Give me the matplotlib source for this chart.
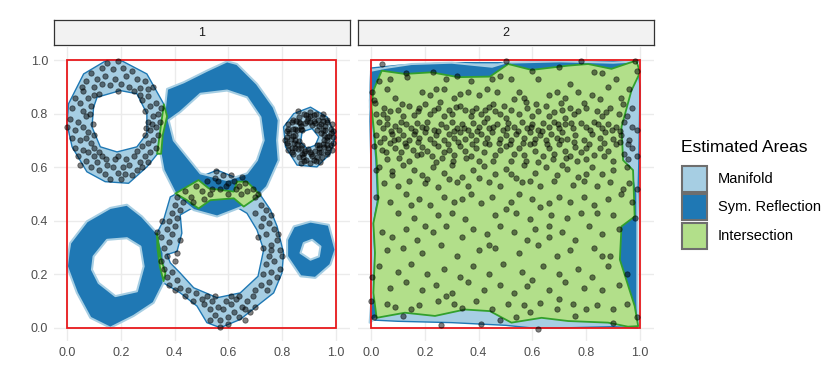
import numpy as np
import matplotlib
matplotlib.use("Agg")
import matplotlib.pyplot as plt
from matplotlib.path import Path
from matplotlib.patches import PathPatch, Rectangle

plt.rcParams['font.family'] = ['Liberation Sans', 'DejaVu Sans']

# ---------------- data ----------------
facet_labels = ["1", "2"]
legend_title = "Estimated Areas"
legend_labels = ["Manifold", "Sym. Reflection", "Intersection"]
ticks = [0.0, 0.2, 0.4, 0.6, 0.8, 1.0]
tick_labels = ["0.0", "0.2", "0.4", "0.6", "0.8", "1.0"]

# Panel 1 - Manifold rings
p1_man_tl_outer = [(0.149, 1.0), (0.198, 1.0), (0.297, 0.948), (0.359, 0.837), (0.372, 0.787), (0.347, 0.663),
                   (0.297, 0.601), (0.229, 0.540), (0.142, 0.546), (0.074, 0.583), (0.019, 0.676), (0.0, 0.762),
                   (0.006, 0.837), (0.062, 0.948)]
p1_man_tl_inner = [(0.112, 0.861), (0.198, 0.886), (0.26, 0.874), (0.297, 0.8), (0.297, 0.725), (0.26, 0.676),
                   (0.186, 0.657), (0.124, 0.676), (0.093, 0.75), (0.099, 0.824)]
p1_man_tr_outer = [(0.843, 0.8), (0.905, 0.824), (0.967, 0.787), (0.998, 0.719), (0.979, 0.651), (0.929, 0.601),
                   (0.855, 0.608), (0.812, 0.676), (0.805, 0.75)]
p1_man_tr_inner = [(0.874, 0.732), (0.911, 0.744), (0.936, 0.713), (0.923, 0.682), (0.892, 0.67), (0.868, 0.693)]
p1_man_bm_outer = [(0.397, 0.496), (0.446, 0.527), (0.496, 0.564), (0.558, 0.589), (0.62, 0.564), (0.682, 0.527),
                   (0.719, 0.496), (0.756, 0.441), (0.781, 0.379), (0.805, 0.28), (0.799, 0.205), (0.768, 0.131),
                   (0.706, 0.082), (0.644, 0.032), (0.57, 0.001), (0.52, 0.02), (0.483, 0.082), (0.421, 0.131),
                   (0.359, 0.168), (0.359, 0.267), (0.335, 0.354), (0.359, 0.403), (0.384, 0.489)]
p1_man_bm_inner = [(0.421, 0.422), (0.496, 0.465), (0.595, 0.472), (0.669, 0.428), (0.706, 0.366), (0.731, 0.292),
                   (0.71, 0.193), (0.644, 0.131), (0.558, 0.113), (0.471, 0.15), (0.421, 0.205), (0.384, 0.243),
                   (0.372, 0.274), (0.409, 0.286), (0.427, 0.354)]

# Panel 1 - Sym. Reflection rings
p1_sym_tm_outer = [(0.372, 0.892), (0.434, 0.917), (0.52, 0.96), (0.595, 0.995), (0.632, 0.985), (0.706, 0.911),
                   (0.768, 0.824), (0.787, 0.775), (0.781, 0.7), (0.787, 0.626), (0.743, 0.527), (0.682, 0.465),
                   (0.62, 0.44), (0.558, 0.416), (0.471, 0.44), (0.409, 0.49), (0.359, 0.589), (0.341, 0.688),
                   (0.359, 0.775)]
p1_sym_tm_inner = [(0.421, 0.806), (0.496, 0.874), (0.595, 0.886), (0.669, 0.861), (0.719, 0.787), (0.731, 0.7),
                   (0.706, 0.626), (0.669, 0.577), (0.595, 0.552), (0.496, 0.577), (0.446, 0.639), (0.397, 0.7),
                   (0.378, 0.775)]
p1_sym_bl_outer = [(0.012, 0.317), (0.074, 0.398), (0.161, 0.448), (0.223, 0.46), (0.279, 0.416), (0.335, 0.354),
                   (0.359, 0.28), (0.359, 0.168), (0.322, 0.094), (0.248, 0.045), (0.161, 0.001), (0.087, 0.038),
                   (0.037, 0.131), (0.0, 0.23), (0.006, 0.28)]
p1_sym_bl_inner = [(0.099, 0.267), (0.149, 0.329), (0.223, 0.335), (0.273, 0.304), (0.285, 0.23), (0.26, 0.137),
                   (0.18, 0.119), (0.118, 0.168), (0.093, 0.218)]
p1_sym_br_outer = [(0.843, 0.379), (0.905, 0.397), (0.973, 0.385), (0.998, 0.292), (0.979, 0.236), (0.923, 0.187),
                   (0.868, 0.193), (0.818, 0.267), (0.818, 0.329)]
p1_sym_br_inner = [(0.88, 0.317), (0.911, 0.329), (0.942, 0.304), (0.936, 0.267), (0.905, 0.255), (0.868, 0.28)]

# Panel 1 - Intersections
p1_int_a = [(0.335, 0.65), (0.36, 0.835), (0.372, 0.79), (0.356, 0.72), (0.35, 0.65)]
p1_int_b = [(0.403, 0.502), (0.489, 0.552), (0.527, 0.521), (0.62, 0.509), (0.632, 0.546), (0.669, 0.546),
            (0.719, 0.496), (0.657, 0.453), (0.62, 0.484), (0.533, 0.477), (0.489, 0.446), (0.446, 0.477)]
p1_int_c = [(0.335, 0.354), (0.347, 0.267), (0.366, 0.205), (0.359, 0.175), (0.345, 0.23), (0.336, 0.30)]

# Panel 2 polygons
p2_man = [(0.0, 0.97), (0.1, 0.98), (0.3, 0.99), (0.5, 0.99), (0.7, 0.99), (0.9, 0.995), (0.99, 0.99),
          (1.0, 0.9), (0.995, 0.6), (0.99, 0.4), (0.985, 0.1), (0.99, 0.0), (0.9, 0.005), (0.7, 0.0), (0.6, 0.0),
          (0.5, 0.01), (0.3, 0.02), (0.1, 0.025), (0.0, 0.03), (0.0, 0.2), (0.0, 0.6), (-0.005, 0.85)]
p2_sym = [(0.0, 0.96), (0.05, 0.97), (0.15, 0.985), (0.3, 0.99), (0.45, 0.975), (0.5, 0.99), (0.7, 0.995),
          (0.9, 0.99), (0.99, 0.995), (0.968, 0.886), (0.931, 0.75), (0.937, 0.626), (0.974, 0.589), (0.99, 0.5),
          (0.99, 0.3), (0.99, 0.1), (0.993, 0.007), (0.9, 0.015), (0.733, 0.026), (0.634, 0.038), (0.522, 0.02),
          (0.442, 0.063), (0.349, 0.069), (0.238, 0.045), (0.126, 0.057), (0.021, 0.038), (-0.005, 0.02),
          (0.004, 0.131), (0.008, 0.28), (0.003, 0.391), (0.018, 0.478), (0.012, 0.626), (0.006, 0.7),
          (-0.004, 0.824)]
p2_int = [(0.009, 0.886), (0.04, 0.96), (0.126, 0.948), (0.225, 0.954), (0.324, 0.936), (0.442, 0.938),
          (0.51, 0.985), (0.597, 0.963), (0.733, 0.979), (0.807, 0.985), (0.894, 0.967), (0.986, 0.998),
          (1.0, 0.954), (0.968, 0.886), (0.931, 0.75), (0.937, 0.626), (0.974, 0.589), (0.98, 0.416),
          (0.931, 0.379), (0.925, 0.255), (0.98, 0.082), (0.993, 0.007), (0.955, 0.005), (0.881, 0.02),
          (0.733, 0.026), (0.634, 0.038), (0.522, 0.02), (0.442, 0.063), (0.349, 0.069), (0.238, 0.045),
          (0.126, 0.057), (0.021, 0.038), (0.009, 0.131), (0.015, 0.28), (0.009, 0.391), (0.027, 0.478),
          (0.021, 0.626), (0.015, 0.7), (0.002, 0.824)]

# Panel 1 points
p1_pts_tl = [(0.15, 0.99), (0.19, 0.995), (0.13, 0.97), (0.17, 0.965), (0.21, 0.97), (0.24, 0.96), (0.09, 0.95),
             (0.11, 0.93), (0.14, 0.94), (0.18, 0.93), (0.22, 0.94), (0.26, 0.93), (0.29, 0.92), (0.07, 0.92),
             (0.10, 0.90), (0.13, 0.91), (0.16, 0.905), (0.20, 0.91), (0.23, 0.90), (0.27, 0.895), (0.30, 0.89),
             (0.32, 0.9), (0.19, 0.885), (0.06, 0.885), (0.03, 0.86), (0.05, 0.84), (0.08, 0.86), (0.02, 0.82),
             (0.06, 0.81), (0.09, 0.83), (0.01, 0.78), (0.04, 0.77), (0.07, 0.79), (0.00, 0.75), (0.03, 0.74),
             (0.06, 0.75), (0.08, 0.73), (0.02, 0.71), (0.05, 0.70), (0.07, 0.71), (0.09, 0.69), (0.03, 0.67),
             (0.06, 0.665), (0.08, 0.655), (0.04, 0.64), (0.07, 0.625), (0.10, 0.64), (0.05, 0.61), (0.09, 0.60),
             (0.11, 0.62), (0.13, 0.64), (0.12, 0.59), (0.15, 0.61), (0.14, 0.575), (0.17, 0.60), (0.18, 0.63),
             (0.16, 0.555), (0.19, 0.58), (0.21, 0.6), (0.20, 0.555), (0.22, 0.63), (0.24, 0.57), (0.23, 0.61),
             (0.26, 0.59), (0.25, 0.64), (0.27, 0.62), (0.28, 0.6), (0.29, 0.64), (0.30, 0.62), (0.26, 0.66),
             (0.31, 0.655), (0.33, 0.67), (0.19, 0.64), (0.145, 0.63), (0.215, 0.575), (0.30, 0.69), (0.32, 0.70),
             (0.29, 0.72), (0.34, 0.72), (0.31, 0.74), (0.33, 0.75), (0.30, 0.77), (0.345, 0.77), (0.32, 0.79),
             (0.29, 0.81), (0.34, 0.80), (0.31, 0.83), (0.33, 0.84), (0.28, 0.85), (0.30, 0.865), (0.35, 0.82),
             (0.315, 0.76), (0.295, 0.745), (0.10, 0.87), (0.12, 0.875), (0.085, 0.80), (0.095, 0.76),
             (0.10, 0.72), (0.27, 0.87), (0.25, 0.885), (0.10, 0.67), (0.28, 0.68), (0.12, 0.655), (0.055, 0.90)]
p1_pts_tr = [(0.988, 0.712), (0.983, 0.741), (0.968, 0.767), (0.946, 0.786), (0.918, 0.796), (0.888, 0.796),
             (0.861, 0.786), (0.838, 0.767), (0.823, 0.741), (0.818, 0.712), (0.823, 0.683), (0.838, 0.657),
             (0.861, 0.638), (0.888, 0.628), (0.918, 0.628), (0.946, 0.638), (0.968, 0.657), (0.983, 0.683),
             (0.957, 0.722), (0.951, 0.740), (0.938, 0.754), (0.922, 0.764), (0.903, 0.767), (0.884, 0.764),
             (0.868, 0.754), (0.855, 0.740), (0.849, 0.722), (0.849, 0.702), (0.855, 0.685), (0.868, 0.670),
             (0.884, 0.660), (0.903, 0.657), (0.922, 0.660), (0.938, 0.670), (0.951, 0.685), (0.957, 0.702),
             (0.973, 0.718), (0.960, 0.752), (0.933, 0.775), (0.897, 0.782), (0.863, 0.769), (0.840, 0.742),
             (0.833, 0.706), (0.846, 0.672), (0.873, 0.649), (0.909, 0.642), (0.943, 0.655), (0.966, 0.682),
             (0.985, 0.760), (0.903, 0.807), (0.821, 0.760), (0.821, 0.665), (0.903, 0.617), (0.985, 0.665),
             (0.931, 0.740), (0.875, 0.740), (0.875, 0.684), (0.931, 0.684), (0.980, 0.726), (0.953, 0.772),
             (0.903, 0.790), (0.853, 0.772), (0.826, 0.726), (0.835, 0.673), (0.876, 0.639), (0.930, 0.639),
             (0.971, 0.673), (0.95, 0.80), (0.86, 0.81), (0.81, 0.70), (0.87, 0.615), (0.94, 0.62),
             (0.966, 0.712), (0.960, 0.739), (0.943, 0.760), (0.919, 0.773), (0.892, 0.774), (0.867, 0.764),
             (0.848, 0.744), (0.840, 0.717), (0.844, 0.690), (0.858, 0.667), (0.881, 0.653), (0.908, 0.649),
             (0.935, 0.657), (0.955, 0.676), (0.965, 0.701), (0.990, 0.735), (0.967, 0.776), (0.926, 0.799),
             (0.880, 0.799), (0.839, 0.776), (0.816, 0.735), (0.816, 0.689), (0.839, 0.648), (0.880, 0.625),
             (0.926, 0.625), (0.967, 0.648), (0.990, 0.689), (0.945, 0.727), (0.911, 0.756), (0.869, 0.741),
             (0.861, 0.697), (0.895, 0.668), (0.937, 0.683)]
p1_pts_bm = [(0.41, 0.49), (0.44, 0.51), (0.46, 0.49), (0.48, 0.53), (0.50, 0.51), (0.52, 0.55), (0.54, 0.52),
             (0.555, 0.585), (0.56, 0.55), (0.58, 0.57), (0.59, 0.53), (0.60, 0.50), (0.62, 0.55), (0.63, 0.52),
             (0.645, 0.50), (0.66, 0.54), (0.67, 0.51), (0.69, 0.52), (0.70, 0.49), (0.71, 0.50), (0.51, 0.48),
             (0.53, 0.50), (0.57, 0.52), (0.61, 0.57), (0.47, 0.47), (0.43, 0.47), (0.65, 0.565), (0.55, 0.56),
             (0.60, 0.54), (0.64, 0.53), (0.72, 0.46), (0.74, 0.44), (0.70, 0.43), (0.73, 0.41), (0.76, 0.42),
             (0.75, 0.39), (0.72, 0.38), (0.77, 0.37), (0.74, 0.35), (0.71, 0.34), (0.78, 0.33), (0.76, 0.31),
             (0.73, 0.30), (0.79, 0.29), (0.75, 0.27), (0.77, 0.25), (0.74, 0.24), (0.79, 0.22), (0.76, 0.21),
             (0.73, 0.20), (0.78, 0.19), (0.75, 0.17), (0.72, 0.16), (0.745, 0.14), (0.70, 0.14), (0.76, 0.29),
             (0.80, 0.27), (0.785, 0.35), (0.69, 0.12), (0.67, 0.10), (0.70, 0.08), (0.65, 0.08), (0.68, 0.06),
             (0.64, 0.04), (0.66, 0.03), (0.62, 0.06), (0.61, 0.09), (0.63, 0.11), (0.60, 0.04), (0.58, 0.07),
             (0.59, 0.10), (0.57, 0.03), (0.56, 0.08), (0.55, 0.05), (0.54, 0.10), (0.53, 0.07), (0.52, 0.12),
             (0.51, 0.09), (0.57, 0.005), (0.53, 0.03), (0.50, 0.11), (0.48, 0.13), (0.47, 0.10), (0.45, 0.14),
             (0.44, 0.12), (0.61, 0.12), (0.64, 0.12), (0.55, 0.12), (0.60, 0.015), (0.66, 0.07), (0.42, 0.15),
             (0.40, 0.14), (0.38, 0.16), (0.41, 0.18), (0.37, 0.19), (0.39, 0.21), (0.36, 0.22), (0.35, 0.25),
             (0.37, 0.27), (0.36, 0.30), (0.38, 0.32), (0.35, 0.34), (0.39, 0.35), (0.37, 0.37), (0.40, 0.38),
             (0.38, 0.40), (0.41, 0.41), (0.39, 0.43), (0.42, 0.44), (0.40, 0.46), (0.335, 0.36), (0.42, 0.33),
             (0.41, 0.28), (0.355, 0.40), (0.40, 0.25)]

# Panel 2 points
p2_pts = [(0.04, 0.985), (0.50, 0.995), (0.78, 0.998), (0.98, 0.998), (0.13, 0.95), (0.23, 0.955), (0.32, 0.94),
          (0.45, 0.93), (0.60, 0.96), (0.70, 0.975), (0.83, 0.955), (0.99, 0.96), (0.005, 0.88),
          (0.03, 0.92), (0.07, 0.93), (0.135, 0.935), (0.28, 0.93), (0.37, 0.92), (0.48, 0.94), (0.52, 0.93),
          (0.62, 0.93), (0.74, 0.91), (0.86, 0.95), (0.91, 0.93), (0.06, 0.89), (0.19, 0.88), (0.24, 0.89),
          (0.27, 0.89), (0.33, 0.875), (0.36, 0.88), (0.40, 0.87), (0.43, 0.89), (0.47, 0.88), (0.55, 0.88),
          (0.69, 0.88), (0.77, 0.88), (0.82, 0.87), (0.88, 0.90), (0.96, 0.89), (0.01, 0.85), (0.09, 0.86),
          (0.22, 0.87), (0.31, 0.86), (0.53, 0.855), (0.57, 0.86), (0.66, 0.87), (0.72, 0.86), (0.85, 0.855),
          (0.93, 0.86), (0.02, 0.80), (0.05, 0.82), (0.07, 0.81), (0.10, 0.815), (0.14, 0.83), (0.18, 0.82),
          (0.20, 0.835), (0.25, 0.82), (0.29, 0.815), (0.30, 0.80), (0.33, 0.83), (0.35, 0.815), (0.39, 0.82),
          (0.41, 0.80), (0.44, 0.825), (0.46, 0.81), (0.48, 0.80), (0.52, 0.815), (0.55, 0.80), (0.58, 0.82),
          (0.62, 0.81), (0.65, 0.83), (0.68, 0.805), (0.71, 0.815), (0.74, 0.82), (0.77, 0.81), (0.80, 0.82),
          (0.84, 0.81), (0.89, 0.82), (0.92, 0.80), (0.97, 0.82), (0.12, 0.79), (0.16, 0.795), (0.22, 0.80),
          (0.27, 0.79), (0.37, 0.79), (0.50, 0.785), (0.60, 0.79), (0.72, 0.785), (0.86, 0.79), (0.06, 0.785),
          (0.43, 0.785), (0.66, 0.79), (0.95, 0.79), (0.015, 0.84), (0.255, 0.845), (0.455, 0.835), (0.79, 0.84),
          (0.03, 0.77), (0.06, 0.76), (0.09, 0.755), (0.11, 0.77), (0.13, 0.76), (0.15, 0.745), (0.17, 0.765),
          (0.19, 0.75), (0.21, 0.77), (0.235, 0.74), (0.26, 0.76), (0.28, 0.75), (0.30, 0.77), (0.32, 0.745),
          (0.34, 0.76), (0.36, 0.74), (0.38, 0.765), (0.40, 0.75), (0.42, 0.77), (0.44, 0.745), (0.47, 0.76),
          (0.49, 0.74), (0.51, 0.765), (0.53, 0.75), (0.56, 0.77), (0.58, 0.745), (0.60, 0.76), (0.62, 0.74),
          (0.64, 0.765), (0.66, 0.75), (0.68, 0.77), (0.70, 0.745), (0.72, 0.76), (0.75, 0.745), (0.78, 0.765),
          (0.80, 0.75), (0.83, 0.77), (0.86, 0.745), (0.88, 0.76), (0.91, 0.75), (0.94, 0.77), (0.97, 0.75),
          (0.02, 0.72), (0.05, 0.71), (0.08, 0.725), (0.10, 0.705), (0.12, 0.72), (0.14, 0.70), (0.16, 0.725),
          (0.18, 0.71), (0.20, 0.73), (0.22, 0.705), (0.24, 0.72), (0.27, 0.70), (0.29, 0.725), (0.31, 0.71),
          (0.33, 0.73), (0.35, 0.705), (0.37, 0.72), (0.39, 0.70), (0.41, 0.725), (0.43, 0.71), (0.45, 0.73),
          (0.48, 0.705), (0.50, 0.72), (0.52, 0.70), (0.54, 0.725), (0.57, 0.71), (0.59, 0.73), (0.61, 0.705),
          (0.63, 0.72), (0.65, 0.70), (0.67, 0.725), (0.69, 0.71), (0.71, 0.73), (0.73, 0.705), (0.76, 0.72),
          (0.79, 0.70), (0.82, 0.725), (0.85, 0.71), (0.87, 0.73), (0.90, 0.705), (0.93, 0.72), (0.96, 0.70),
          (0.99, 0.74), (0.01, 0.68), (0.04, 0.665), (0.07, 0.69), (0.09, 0.67), (0.11, 0.655), (0.13, 0.68),
          (0.155, 0.665), (0.17, 0.645), (0.19, 0.675), (0.21, 0.66), (0.225, 0.64), (0.25, 0.68), (0.27, 0.655),
          (0.29, 0.665), (0.31, 0.645), (0.33, 0.68), (0.35, 0.66), (0.37, 0.64), (0.39, 0.67), (0.42, 0.655),
          (0.44, 0.685), (0.46, 0.645), (0.48, 0.665), (0.50, 0.68), (0.53, 0.65), (0.55, 0.67), (0.57, 0.645),
          (0.59, 0.685), (0.61, 0.66), (0.64, 0.64), (0.66, 0.67), (0.68, 0.65), (0.70, 0.685), (0.72, 0.66),
          (0.74, 0.64), (0.76, 0.675), (0.78, 0.655), (0.81, 0.685), (0.83, 0.645), (0.85, 0.67), (0.88, 0.66),
          (0.91, 0.685), (0.94, 0.65), (0.97, 0.67), (0.06, 0.63), (0.14, 0.625), (0.24, 0.62), (0.40, 0.625),
          (0.52, 0.625), (0.62, 0.62), (0.80, 0.63), (0.90, 0.625), (0.99, 0.64), (0.03, 0.60), (0.08, 0.585),
          (0.12, 0.61), (0.16, 0.59), (0.19, 0.57), (0.23, 0.60), (0.27, 0.58), (0.30, 0.61), (0.34, 0.565),
          (0.38, 0.59), (0.42, 0.605), (0.46, 0.575), (0.50, 0.595), (0.54, 0.56), (0.57, 0.61), (0.61, 0.58),
          (0.65, 0.60), (0.69, 0.57), (0.73, 0.595), (0.77, 0.565), (0.82, 0.60), (0.86, 0.575), (0.95, 0.60),
          (0.05, 0.54), (0.10, 0.53), (0.14, 0.55), (0.20, 0.54), (0.25, 0.525), (0.32, 0.545), (0.36, 0.53),
          (0.44, 0.545), (0.48, 0.53), (0.56, 0.545), (0.63, 0.53), (0.68, 0.55), (0.75, 0.535), (0.79, 0.55),
          (0.84, 0.53), (0.89, 0.545), (0.935, 0.52), (0.02, 0.49), (0.07, 0.47), (0.13, 0.50), (0.18, 0.48),
          (0.22, 0.46), (0.27, 0.49), (0.31, 0.47), (0.37, 0.50), (0.41, 0.465), (0.45, 0.49), (0.52, 0.47),
          (0.55, 0.50), (0.60, 0.48), (0.66, 0.465), (0.70, 0.49), (0.74, 0.47), (0.79, 0.49), (0.83, 0.46),
          (0.88, 0.48), (0.93, 0.50), (0.97, 0.47), (0.10, 0.43), (0.16, 0.41), (0.25, 0.42), (0.30, 0.43),
          (0.35, 0.405), (0.46, 0.42), (0.54, 0.43), (0.59, 0.405), (0.67, 0.42), (0.73, 0.41), (0.84, 0.43),
          (0.90, 0.42), (0.98, 0.41), (0.04, 0.36), (0.08, 0.34), (0.13, 0.37), (0.17, 0.33), (0.23, 0.36),
          (0.28, 0.38), (0.34, 0.34), (0.38, 0.37), (0.43, 0.35), (0.48, 0.38), (0.53, 0.36), (0.58, 0.33),
          (0.61, 0.37), (0.66, 0.34), (0.71, 0.36), (0.76, 0.33), (0.81, 0.38), (0.86, 0.35), (0.92, 0.37),
          (0.06, 0.29), (0.12, 0.30), (0.19, 0.28), (0.26, 0.31), (0.32, 0.27), (0.40, 0.29), (0.46, 0.30),
          (0.55, 0.28), (0.62, 0.31), (0.69, 0.27), (0.74, 0.29), (0.83, 0.30), (0.89, 0.27), (0.03, 0.23),
          (0.10, 0.21), (0.15, 0.24), (0.21, 0.20), (0.27, 0.22), (0.33, 0.19), (0.38, 0.23), (0.44, 0.20),
          (0.49, 0.24), (0.56, 0.21), (0.60, 0.18), (0.64, 0.23), (0.70, 0.20), (0.77, 0.22), (0.82, 0.19),
          (0.88, 0.23), (0.95, 0.20), (0.07, 0.15), (0.13, 0.17), (0.19, 0.14), (0.24, 0.16), (0.30, 0.13),
          (0.36, 0.17), (0.42, 0.14), (0.48, 0.16), (0.53, 0.13), (0.58, 0.155), (0.66, 0.14), (0.72, 0.17),
          (0.79, 0.15), (0.86, 0.14), (0.92, 0.16), (0.00, 0.10), (0.06, 0.09), (0.09, 0.08), (0.15, 0.07),
          (0.18, 0.085), (0.25, 0.10), (0.31, 0.09), (0.34, 0.075), (0.39, 0.10), (0.45, 0.07), (0.51, 0.09),
          (0.57, 0.085), (0.59, 0.06), (0.63, 0.095), (0.69, 0.07), (0.75, 0.09), (0.80, 0.07), (0.84, 0.085),
          (0.90, 0.07), (0.95, 0.09), (0.12, 0.045), (0.26, 0.01), (0.41, 0.015), (0.48, 0.03), (0.54, 0.04),
          (0.62, -0.005), (0.76, 0.045), (0.90, 0.02), (0.99, 0.04), (0.01, 0.04), (0.005, 0.19), (0.02, 0.59),
          (0.99, 0.52), (0.96, 0.54),
          (0.045, 0.745), (0.075, 0.735), (0.105, 0.74), (0.165, 0.735), (0.205, 0.745), (0.25, 0.735),
          (0.31, 0.735), (0.345, 0.745), (0.395, 0.735), (0.455, 0.75), (0.505, 0.745), (0.545, 0.735),
          (0.595, 0.75), (0.635, 0.735), (0.695, 0.76), (0.745, 0.765), (0.815, 0.74), (0.845, 0.76),
          (0.895, 0.74), (0.925, 0.735), (0.035, 0.695), (0.085, 0.70), (0.125, 0.69), (0.175, 0.695),
          (0.235, 0.69), (0.285, 0.685), (0.325, 0.695), (0.375, 0.685), (0.425, 0.69), (0.475, 0.69),
          (0.515, 0.685), (0.565, 0.69), (0.605, 0.69), (0.655, 0.685), (0.705, 0.70), (0.755, 0.695),
          (0.80, 0.67), (0.865, 0.69), (0.925, 0.695), (0.955, 0.685), (0.055, 0.655), (0.105, 0.635),
          (0.185, 0.65), (0.265, 0.635), (0.305, 0.625), (0.355, 0.635), (0.455, 0.625), (0.575, 0.625),
          (0.675, 0.63), (0.725, 0.635), (0.765, 0.625), (0.865, 0.64), (0.955, 0.63), (0.045, 0.80),
          (0.115, 0.835), (0.175, 0.81), (0.235, 0.815), (0.315, 0.825), (0.375, 0.81), (0.425, 0.815),
          (0.495, 0.83), (0.575, 0.845), (0.615, 0.835), (0.705, 0.84), (0.755, 0.80), (0.875, 0.805),
          (0.935, 0.835), (0.08, 0.57), (0.21, 0.555), (0.29, 0.555), (0.40, 0.56), (0.52, 0.575),
          (0.59, 0.55), (0.71, 0.61), (0.80, 0.575), (0.90, 0.59), (0.15, 0.46), (0.34, 0.48), (0.50, 0.445),
          (0.63, 0.45), (0.78, 0.43), (0.20, 0.38), (0.44, 0.31), (0.66, 0.38), (0.86, 0.27), (0.28, 0.12),
          (0.70, 0.11)]

# ---------------- style ----------------
C_MAN = "#a6cee3"
C_SYM = "#1f78b4"
C_INT = "#b2df8a"
C_INT_EDGE = "#33a02c"
C_RED = "#e8191c"
GRID = "#ebebeb"
TXT = "#4d4d4d"

W, H = 830, 387
fig = plt.figure(figsize=(W / 100, H / 100), dpi=100)


def px_axes(x0, y0, x1, y1):
    return fig.add_axes([x0 / W, 1 - y1 / H, (x1 - x0) / W, (y1 - y0) / H])


def signed_area(p):
    p = np.asarray(p, float)
    return 0.5 * np.sum(p[:, 0] * np.roll(p[:, 1], -1) - np.roll(p[:, 0], -1) * p[:, 1])


def poly_path(outer, inner=None):
    o = np.asarray(outer, float)
    if signed_area(o) < 0:
        o = o[::-1]
    verts = list(o) + [o[0]]
    codes = [Path.MOVETO] + [Path.LINETO] * (len(o) - 1) + [Path.CLOSEPOLY]
    if inner is not None:
        i = np.asarray(inner, float)
        if signed_area(i) > 0:
            i = i[::-1]
        verts += list(i) + [i[0]]
        codes += [Path.MOVETO] + [Path.LINETO] * (len(i) - 1) + [Path.CLOSEPOLY]
    return Path(verts, codes)


def add_poly(ax, outer, inner, fc, ec, lw, z):
    ax.add_patch(PathPatch(poly_path(outer, inner), facecolor=fc, edgecolor=ec, lw=lw, zorder=z,
                           joinstyle='round'))


def style_axes(ax, show_y):
    ax.set_xlim(-0.05, 1.05)
    ax.set_ylim(-0.05, 1.05)
    ax.set_xticks(ticks)
    ax.set_xticklabels(tick_labels)
    ax.set_yticks(ticks)
    ax.set_yticklabels(tick_labels if show_y else [])
    ax.grid(True, color=GRID, lw=1.0, zorder=0)
    ax.set_axisbelow(True)
    for s in ax.spines.values():
        s.set_visible(False)
    ax.tick_params(length=0, labelsize=9, labelcolor=TXT, pad=4)


def add_strip(x0, x1, label):
    sax = px_axes(x0, 20, x1, 45)
    sax.set_xticks([])
    sax.set_yticks([])
    sax.set_facecolor("#f2f2f2")
    for s in sax.spines.values():
        s.set_color("#333333")
        s.set_linewidth(0.9)
    sax.text(0.5, 0.5, label, ha='center', va='center', fontsize=9, color="#1a1a1a",
             transform=sax.transAxes)


def add_points(ax, pts):
    p = np.asarray(pts, float)
    ax.scatter(p[:, 0], p[:, 1], s=15, c="black", alpha=0.5, edgecolors="black", linewidths=0.6,
               zorder=6)


def add_frame(ax):
    ax.add_patch(Rectangle((0, 0), 1, 1, fill=False, edgecolor=C_RED, lw=1.3, zorder=5))


# Panel 1
ax1 = px_axes(53.5, 46.6, 349.5, 341.4)
style_axes(ax1, True)
for o, i in [(p1_man_tl_outer, p1_man_tl_inner), (p1_man_tr_outer, p1_man_tr_inner),
             (p1_man_bm_outer, p1_man_bm_inner)]:
    add_poly(ax1, o, i, C_MAN, C_SYM, 1.0, 2)
for o, i in [(p1_sym_tm_outer, p1_sym_tm_inner), (p1_sym_bl_outer, p1_sym_bl_inner),
             (p1_sym_br_outer, p1_sym_br_inner)]:
    add_poly(ax1, o, i, C_SYM, C_MAN, 1.5, 3)
for o in [p1_int_a, p1_int_b, p1_int_c]:
    add_poly(ax1, o, None, C_INT, C_INT_EDGE, 1.3, 4)
add_frame(ax1)
add_points(ax1, p1_pts_tl + p1_pts_tr + p1_pts_bm)

# Panel 2
ax2 = px_axes(357.5, 46.6, 653.5, 341.4)
style_axes(ax2, False)
add_poly(ax2, p2_man, None, C_MAN, C_SYM, 1.0, 2)
add_poly(ax2, p2_sym, None, C_SYM, C_MAN, 1.5, 3)
add_poly(ax2, p2_int, None, C_INT, C_INT_EDGE, 1.3, 4)
add_frame(ax2)
add_points(ax2, p2_pts)

add_strip(53.5, 349.5, facet_labels[0])
add_strip(357.5, 653.5, facet_labels[1])

# Legend (manual)
fig.text(681 / W, 1 - 148 / H, legend_title, fontsize=12.5, color="black", va='center', ha='left')
key_fills = [C_MAN, C_SYM, C_INT]
key_tops = [166, 194, 222.5]
for lab, fc, top in zip(legend_labels, key_fills, key_tops):
    fig.patches.append(Rectangle((682 / W, 1 - (top + 26) / H), 25 / W, 26 / H, facecolor=fc,
                                 edgecolor="#6e6e6e", lw=1.5, transform=fig.transFigure, figure=fig))
    fig.text(718 / W, 1 - (top + 13) / H, lab, fontsize=10.5, color="black", va='center', ha='left')

fig.savefig("out.png", dpi=100)
